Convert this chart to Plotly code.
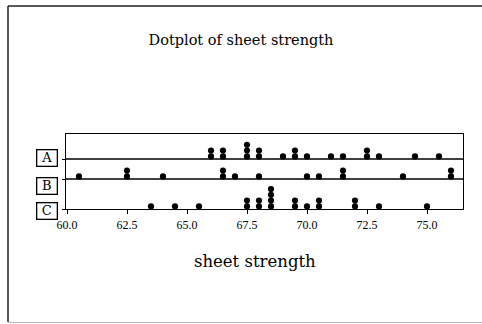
import plotly.graph_objects as go

groups = ["A", "B", "C"]
A_vals = [66.0, 66.0, 66.5, 66.5, 67.5, 67.5, 67.5, 68.0, 68.0, 69.0, 69.5, 69.5,
          70.0, 71.0, 71.5, 72.5, 72.5, 73.0, 74.5, 75.5]
B_vals = [60.5, 62.5, 62.5, 64.0, 66.5, 66.5, 67.0, 68.0, 70.0, 70.5, 71.5, 71.5,
          74.0, 76.0, 76.0]
C_vals = [63.5, 64.5, 65.5, 67.5, 67.5, 68.0, 68.0, 68.5, 68.5, 68.5, 68.5, 69.5,
          69.5, 70.0, 70.5, 70.5, 72.0, 72.0, 73.0, 75.0]
tick_vals = [60.0, 62.5, 65.0, 67.5, 70.0, 72.5, 75.0]
tick_text = ["60.0", "62.5", "65.0", "67.5", "70.0", "72.5", "75.0"]

W, H = 482, 324
L, R, T, B = 66, 19, 134, 115      # plot area pixel box: x 66..463, y 134..209
plot_h = H - T - B                 # 75 px, y-axis in pixel units
baselines = {"A": 50, "B": 30, "C": 0}
box_centers = {"A": 158, "B": 186, "C": 211}   # label box centers (page px)
DOT_OFF, DOT_STEP = 2.6, 5.8

def stack(vals, base):
    xs, ys, seen = [], [], {}
    for v in vals:
        k = seen.get(v, 0)
        seen[v] = k + 1
        xs.append(v)
        ys.append(base + DOT_OFF + DOT_STEP * k)
    return xs, ys

fig = go.Figure()
for g, vals in zip(groups, [A_vals, B_vals, C_vals]):
    xs, ys = stack(vals, baselines[g])
    fig.add_trace(go.Scatter(x=xs, y=ys, mode="markers", name=g,
                             marker=dict(size=6.2, color="black"),
                             showlegend=False, hoverinfo="x"))

x_lo = 60 - 1 / 24.0
x_hi = 60 + (463 - 67) / 24.0

for g in ["A", "B"]:
    fig.add_shape(type="line", xref="paper", yref="y", x0=0, x1=1,
                  y0=baselines[g], y1=baselines[g],
                  line=dict(color="black", width=1.4))

def px_x(px):
    return (px - L) / (W - L - R)

def px_y(py):
    return (H - B - py) / plot_h

for g in groups:
    fig.add_annotation(xref="paper", yref="paper", x=px_x(47), y=px_y(box_centers[g]),
                       text=g, showarrow=False,
                       font=dict(family="DejaVu Serif", size=13, color="black"),
                       bordercolor="black", borderwidth=1.3, borderpad=0,
                       width=19, height=15, xanchor="center", yanchor="middle")

# x-axis title (placed left of plot center, as in the reference)
fig.add_annotation(xref="paper", yref="paper", x=px_x(254.5), y=px_y(261),
                   text="sheet strength", showarrow=False,
                   xanchor="center", yanchor="middle",
                   font=dict(family="DejaVu Serif", size=16.5, color="black"))

# outer frame: dark left and top, faint bottom
fig.add_shape(type="line", xref="paper", yref="paper",
              x0=px_x(8), x1=px_x(8), y0=px_y(322), y1=px_y(6),
              line=dict(color="#222222", width=1.5))
fig.add_shape(type="line", xref="paper", yref="paper",
              x0=px_x(8), x1=px_x(482), y0=px_y(6), y1=px_y(6),
              line=dict(color="#222222", width=1.5))
fig.add_shape(type="line", xref="paper", yref="paper",
              x0=px_x(8), x1=px_x(482), y0=px_y(322.5), y1=px_y(322.5),
              line=dict(color="#bbbbbb", width=1))

fig.update_layout(
    width=W, height=H,
    margin=dict(l=L, r=R, t=T, b=B),
    paper_bgcolor="white", plot_bgcolor="white",
    title=dict(text="Dotplot of sheet strength", x=0.5, xanchor="center",
               y=1 - 40 / H, yanchor="middle",
               font=dict(family="DejaVu Serif", size=14.5, color="black")),
    xaxis=dict(range=[x_lo, x_hi], tickvals=tick_vals, ticktext=tick_text,
               showgrid=False, zeroline=False, showline=True, mirror=True,
               linecolor="black", linewidth=1.4, ticks="outside", ticklen=4,
               tickcolor="black", tickwidth=1,
               tickfont=dict(family="Liberation Serif", size=12, color="black")),
    yaxis=dict(range=[0, plot_h], tickvals=[baselines[g] for g in groups],
               showticklabels=False, showgrid=False, zeroline=False,
               showline=True, mirror=True, linecolor="black", linewidth=1.4,
               ticks="outside", ticklen=3, tickcolor="black"),
)

fig.write_html("out.html")
